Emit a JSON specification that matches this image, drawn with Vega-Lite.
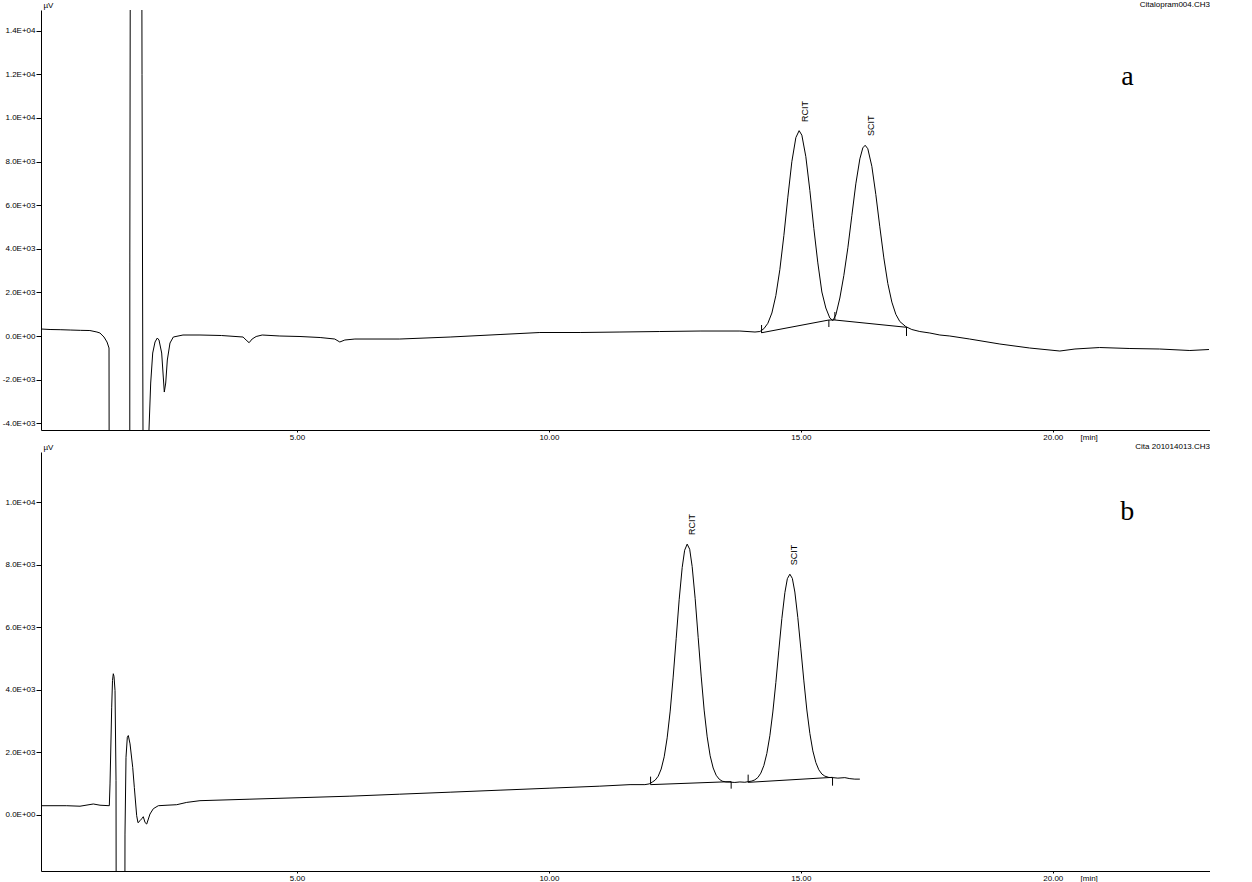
{
  "$schema": "https://vega.github.io/schema/vega-lite/v6.json",
  "background": "white",
  "padding": {"left": 2, "top": 1, "right": 0, "bottom": 0},
  "spacing": 22,
  "bounds": "flush",
  "datasets": {
    "traceA": [
      {"t": -0.08, "v": 321}, {"t": 0.1, "v": 298}, {"t": 0.3, "v": 290}, {"t": 0.5, "v": 275}, {"t": 0.7, "v": 260}, {"t": 0.89, "v": 252},
      {"t": 1.03, "v": 183}, {"t": 1.09, "v": 138}, {"t": 1.17, "v": -46}, {"t": 1.23, "v": -275}, {"t": 1.27, "v": -550}, {"t": 1.28, "v": -20000},
      {"t": 1.68, "v": -20000}, {"t": 1.683, "v": 3350}, {"t": 1.7, "v": 30000}, {"t": 1.91, "v": 30000}, {"t": 1.925, "v": 12000}, {"t": 1.94, "v": -1330},
      {"t": 1.965, "v": -20000}, {"t": 2.055, "v": -20000}, {"t": 2.063, "v": -4312}, {"t": 2.097, "v": -2156}, {"t": 2.137, "v": -780}, {"t": 2.183, "v": -275},
      {"t": 2.228, "v": -92}, {"t": 2.262, "v": -183}, {"t": 2.315, "v": -780}, {"t": 2.347, "v": -1881}, {"t": 2.367, "v": -2569}, {"t": 2.395, "v": -2156},
      {"t": 2.427, "v": -1101}, {"t": 2.48, "v": -321}, {"t": 2.546, "v": -46}, {"t": 2.738, "v": 46}, {"t": 3.075, "v": 46}, {"t": 3.5, "v": 23},
      {"t": 3.93, "v": -46}, {"t": 3.99, "v": -183}, {"t": 4.05, "v": -307}, {"t": 4.11, "v": -138}, {"t": 4.19, "v": -23}, {"t": 4.31, "v": 46},
      {"t": 4.66, "v": 0}, {"t": 5.06, "v": -23}, {"t": 5.46, "v": -69}, {"t": 5.75, "v": -138}, {"t": 5.85, "v": -275}, {"t": 5.95, "v": -183},
      {"t": 6.15, "v": -138}, {"t": 7.04, "v": -138}, {"t": 8.04, "v": -46}, {"t": 9.03, "v": 69}, {"t": 9.82, "v": 161}, {"t": 10.62, "v": 161},
      {"t": 11.41, "v": 183}, {"t": 12.2, "v": 206}, {"t": 13.0, "v": 229}, {"t": 13.79, "v": 229}, {"t": 14.09, "v": 183},
      {"t": 14.187, "v": 206}, {"t": 14.266, "v": 335}, {"t": 14.345, "v": 583}, {"t": 14.425, "v": 1055}, {"t": 14.504, "v": 1853}, {"t": 14.583, "v": 3041},
      {"t": 14.663, "v": 4605}, {"t": 14.742, "v": 6367}, {"t": 14.821, "v": 7991}, {"t": 14.901, "v": 9101}, {"t": 14.966, "v": 9417}, {"t": 15.02, "v": 9211},
      {"t": 15.099, "v": 8224}, {"t": 15.179, "v": 6674}, {"t": 15.258, "v": 4931}, {"t": 15.337, "v": 3353}, {"t": 15.417, "v": 2018}, {"t": 15.496, "v": 1284},
      {"t": 15.575, "v": 826}, {"t": 15.635, "v": 711}, {"t": 15.694, "v": 963}, {"t": 15.774, "v": 1743}, {"t": 15.853, "v": 2775}, {"t": 15.933, "v": 4046},
      {"t": 16.012, "v": 5518}, {"t": 16.091, "v": 6977}, {"t": 16.171, "v": 8124}, {"t": 16.23, "v": 8628}, {"t": 16.276, "v": 8747}, {"t": 16.329, "v": 8587},
      {"t": 16.409, "v": 7780}, {"t": 16.488, "v": 6491}, {"t": 16.567, "v": 5009}, {"t": 16.647, "v": 3582}, {"t": 16.726, "v": 2408}, {"t": 16.806, "v": 1555},
      {"t": 16.885, "v": 995}, {"t": 16.964, "v": 665}, {"t": 17.083, "v": 431}, {"t": 17.202, "v": 298}, {"t": 17.361, "v": 206}, {"t": 17.56, "v": 138},
      {"t": 17.758, "v": 46}, {"t": 17.956, "v": 0}, {"t": 18.35, "v": -138}, {"t": 18.95, "v": -367}, {"t": 19.54, "v": -550}, {"t": 20.14, "v": -688},
      {"t": 20.44, "v": -596}, {"t": 20.93, "v": -528}, {"t": 21.53, "v": -573}, {"t": 22.12, "v": -596}, {"t": 22.72, "v": -665}, {"t": 23.1, "v": -619}
    ],
    "baseA": [
      {"seg": 1, "t": 14.22, "v": 150}, {"seg": 1, "t": 15.556, "v": 734}, {"seg": 1, "t": 15.675, "v": 734}, {"seg": 1, "t": 17.097, "v": 400}
    ],
    "ticksA": [
      {"t": 14.22, "v": 138, "v2": 505}, {"t": 15.556, "v": 734, "v2": 413}, {"t": 15.675, "v": 1101, "v2": 734}, {"t": 17.097, "v": 413, "v2": 0}
    ],
    "labelsA": [
      {"t": 15.08, "v": 9816, "label": "RCIT"}, {"t": 16.4, "v": 9174, "label": "SCIT"}
    ],
    "letterA": [{"t": 21.48, "v": 11490, "label": "a"}],
    "traceB": [
      {"t": -0.065, "v": 288}, {"t": 0.198, "v": 288}, {"t": 0.431, "v": 288}, {"t": 0.694, "v": 272}, {"t": 0.958, "v": 343}, {"t": 1.091, "v": 304},
      {"t": 1.276, "v": 288}, {"t": 1.29, "v": 984}, {"t": 1.323, "v": 3439}, {"t": 1.339, "v": 4295}, {"t": 1.355, "v": 4509}, {"t": 1.369, "v": 4423},
      {"t": 1.389, "v": 3974}, {"t": 1.409, "v": 1090}, {"t": 1.423, "v": -20000}, {"t": 1.567, "v": -20000}, {"t": 1.587, "v": -619}, {"t": 1.607, "v": 1836},
      {"t": 1.633, "v": 2477}, {"t": 1.653, "v": 2532}, {"t": 1.687, "v": 2266}, {"t": 1.74, "v": 1516}, {"t": 1.772, "v": 875}, {"t": 1.819, "v": -32},
      {"t": 1.845, "v": -256}, {"t": 1.885, "v": -192}, {"t": 1.919, "v": -128}, {"t": 1.95, "v": -64}, {"t": 1.985, "v": -250}, {"t": 2.018, "v": -298},
      {"t": 2.083, "v": 22}, {"t": 2.149, "v": 192}, {"t": 2.248, "v": 288}, {"t": 2.421, "v": 304}, {"t": 2.613, "v": 320}, {"t": 2.812, "v": 394},
      {"t": 3.075, "v": 449}, {"t": 4.067, "v": 497}, {"t": 5.06, "v": 545}, {"t": 6.05, "v": 593}, {"t": 7.04, "v": 657}, {"t": 8.04, "v": 721},
      {"t": 9.03, "v": 785}, {"t": 10.02, "v": 849}, {"t": 11.01, "v": 913}, {"t": 11.61, "v": 962}, {"t": 11.905, "v": 962}, {"t": 11.99, "v": 985},
      {"t": 12.05, "v": 1042}, {"t": 12.109, "v": 1106}, {"t": 12.169, "v": 1231}, {"t": 12.228, "v": 1461}, {"t": 12.288, "v": 1852}, {"t": 12.347, "v": 2458},
      {"t": 12.407, "v": 3314}, {"t": 12.466, "v": 4401}, {"t": 12.526, "v": 5641}, {"t": 12.585, "v": 6875}, {"t": 12.645, "v": 7904}, {"t": 12.694, "v": 8458},
      {"t": 12.744, "v": 8654}, {"t": 12.794, "v": 8490}, {"t": 12.843, "v": 7936}, {"t": 12.903, "v": 6907}, {"t": 12.962, "v": 5673}, {"t": 13.022, "v": 4433},
      {"t": 13.081, "v": 3346}, {"t": 13.141, "v": 2490}, {"t": 13.2, "v": 1885}, {"t": 13.26, "v": 1494}, {"t": 13.319, "v": 1263}, {"t": 13.379, "v": 1138},
      {"t": 13.438, "v": 1074}, {"t": 13.512, "v": 1048}, {"t": 13.591, "v": 1042}, {"t": 13.69, "v": 1032}, {"t": 13.79, "v": 1048}, {"t": 13.889, "v": 1038},
      {"t": 14.028, "v": 1077}, {"t": 14.087, "v": 1115}, {"t": 14.147, "v": 1189}, {"t": 14.206, "v": 1330}, {"t": 14.266, "v": 1574}, {"t": 14.325, "v": 1958},
      {"t": 14.385, "v": 2526}, {"t": 14.444, "v": 3285}, {"t": 14.504, "v": 4227}, {"t": 14.563, "v": 5263}, {"t": 14.623, "v": 6272}, {"t": 14.683, "v": 7102},
      {"t": 14.732, "v": 7548}, {"t": 14.782, "v": 7692}, {"t": 14.831, "v": 7558}, {"t": 14.881, "v": 7122}, {"t": 14.94, "v": 6304}, {"t": 15.0, "v": 5304},
      {"t": 15.06, "v": 4279}, {"t": 15.119, "v": 3349}, {"t": 15.179, "v": 2599}, {"t": 15.238, "v": 2042}, {"t": 15.298, "v": 1667}, {"t": 15.357, "v": 1436},
      {"t": 15.417, "v": 1301}, {"t": 15.476, "v": 1234}, {"t": 15.556, "v": 1192}, {"t": 15.635, "v": 1186}, {"t": 15.734, "v": 1170}, {"t": 15.873, "v": 1186},
      {"t": 15.972, "v": 1154}, {"t": 16.071, "v": 1138}, {"t": 16.171, "v": 1138}
    ],
    "baseB": [
      {"seg": 1, "t": 12.018, "v": 962}, {"seg": 1, "t": 13.617, "v": 1058},
      {"seg": 2, "t": 13.954, "v": 1035}, {"seg": 2, "t": 15.629, "v": 1195}
    ],
    "ticksB": [
      {"t": 12.018, "v": 962, "v2": 1218}, {"t": 13.617, "v": 1058, "v2": 833}, {"t": 13.954, "v": 1035, "v2": 1282}, {"t": 15.629, "v": 1186, "v2": 929}
    ],
    "labelsB": [
      {"t": 12.83, "v": 8942, "label": "RCIT"}, {"t": 14.86, "v": 7980, "label": "SCIT"}
    ],
    "letterB": [{"t": 21.48, "v": 9423, "label": "b"}]
  },
  "vconcat": [
    {
      "width": 1169,
      "height": 420,
      "title": {"text": "Citalopram004.CH3", "anchor": "end", "offset": -8},
      "encoding": {
        "x": {"field": "t", "type": "quantitative", "scale": {"domain": [-0.08, 23.12], "nice": false, "zero": false},
          "axis": {"values": [5, 10, 15, 20], "format": ".2f", "tickSize": 2, "labelPadding": 1, "labelFlush": false, "title": "[min]", "titleX": 1039, "titleY": 3, "titleAlign": "left", "titleBaseline": "top"}},
        "y": {"field": "v", "type": "quantitative", "scale": {"domain": [-4310, 14950], "nice": false, "zero": false},
          "axis": {"values": [-4000, -2000, 0, 2000, 4000, 6000, 8000, 10000, 12000, 14000], "tickSize": 5, "labelPadding": 1, "labelFlush": false, "labelOverlap": false,
            "labelExpr": "datum.value == 0 ? '0.0E+00' : (datum.value < 0 ? '-' : '') + format(abs(datum.value) / pow(10, floor(log(abs(datum.value)) / LN10 + 1e-9)), '.1f') + 'E+' + pad(toString(floor(log(abs(datum.value)) / LN10 + 1e-9)), 2, '0', 'left')",
            "title": "µV", "titleAngle": 0, "titleX": 2, "titleY": -1, "titleAlign": "left", "titleBaseline": "bottom"}}
      },
      "layer": [
        {"data": {"name": "traceA"}, "mark": {"type": "line", "clip": true, "color": "black", "strokeWidth": 1}},
        {"data": {"name": "baseA"}, "mark": {"type": "line", "clip": true, "color": "black", "strokeWidth": 1}, "encoding": {"detail": {"field": "seg"}}},
        {"data": {"name": "ticksA"}, "mark": {"type": "rule", "color": "black", "strokeWidth": 1}, "encoding": {"y2": {"field": "v2"}}},
        {"data": {"name": "labelsA"}, "mark": {"type": "text", "angle": 270, "align": "left", "baseline": "middle", "font": "Liberation Sans", "fontSize": 9, "color": "black"}, "encoding": {"text": {"field": "label"}}},
        {"data": {"name": "letterA"}, "mark": {"type": "text", "align": "center", "baseline": "alphabetic", "font": "Liberation Serif", "fontSize": 28, "color": "black"}, "encoding": {"text": {"field": "label"}}}
      ]
    },
    {
      "width": 1169,
      "height": 419,
      "title": {"text": "Cita 201014013.CH3", "anchor": "end", "offset": -8},
      "encoding": {
        "x": {"field": "t", "type": "quantitative", "scale": {"domain": [-0.08, 23.12], "nice": false, "zero": false},
          "axis": {"values": [5, 10, 15, 20], "format": ".2f", "tickSize": 2, "labelPadding": 1, "labelFlush": false, "title": "[min]", "titleX": 1039, "titleY": 3, "titleAlign": "left", "titleBaseline": "top"}},
        "y": {"field": "v", "type": "quantitative", "scale": {"domain": [-1800, 11600], "nice": false, "zero": false},
          "axis": {"values": [0, 2000, 4000, 6000, 8000, 10000], "tickSize": 5, "labelPadding": 1, "labelFlush": false, "labelOverlap": false,
            "labelExpr": "datum.value == 0 ? '0.0E+00' : (datum.value < 0 ? '-' : '') + format(abs(datum.value) / pow(10, floor(log(abs(datum.value)) / LN10 + 1e-9)), '.1f') + 'E+' + pad(toString(floor(log(abs(datum.value)) / LN10 + 1e-9)), 2, '0', 'left')",
            "title": "µV", "titleAngle": 0, "titleX": 2, "titleY": -1, "titleAlign": "left", "titleBaseline": "bottom"}}
      },
      "layer": [
        {"data": {"name": "traceB"}, "mark": {"type": "line", "clip": true, "color": "black", "strokeWidth": 1}},
        {"data": {"name": "baseB"}, "mark": {"type": "line", "clip": true, "color": "black", "strokeWidth": 1}, "encoding": {"detail": {"field": "seg"}}},
        {"data": {"name": "ticksB"}, "mark": {"type": "rule", "color": "black", "strokeWidth": 1}, "encoding": {"y2": {"field": "v2"}}},
        {"data": {"name": "labelsB"}, "mark": {"type": "text", "angle": 270, "align": "left", "baseline": "middle", "font": "Liberation Sans", "fontSize": 9, "color": "black"}, "encoding": {"text": {"field": "label"}}},
        {"data": {"name": "letterB"}, "mark": {"type": "text", "align": "center", "baseline": "alphabetic", "font": "Liberation Serif", "fontSize": 28, "color": "black"}, "encoding": {"text": {"field": "label"}}}
      ]
    }
  ],
  "config": {
    "view": {"stroke": null},
    "axis": {"grid": false, "labelFont": "Liberation Sans", "labelFontSize": 8, "labelColor": "black", "domainColor": "black", "domainWidth": 1, "tickColor": "black", "tickWidth": 1,
      "titleFont": "Liberation Sans", "titleFontSize": 8, "titleFontWeight": "normal", "titleColor": "black"},
    "title": {"font": "Liberation Sans", "fontSize": 8, "fontWeight": "normal", "color": "black"}
  }
}
